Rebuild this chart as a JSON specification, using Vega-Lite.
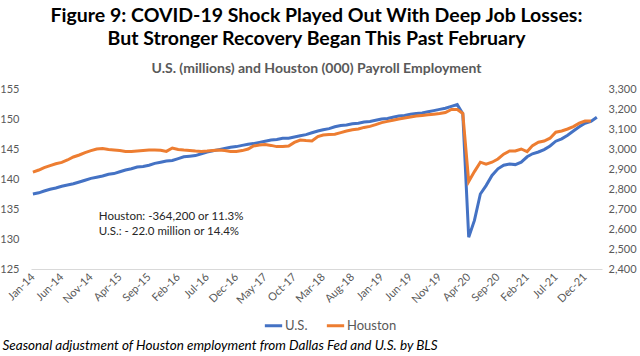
{
  "$schema": "https://vega.github.io/schema/vega-lite/v6.json",
  "width": 571,
  "height": 180,
  "autosize": {"type": "none"},
  "padding": {"left": 31, "top": 89, "right": 38, "bottom": 87},
  "background": "white",
  "config": {"view": {"stroke": null}, "font": "Lato"},
  "title": {
    "text": ["Figure 9: COVID-19 Shock Played Out With Deep Job Losses:", "But Stronger Recovery Began This Past February"],
    "subtitle": "U.S. (millions) and Houston (000) Payroll Employment",
    "anchor": "middle",
    "font": "Lato",
    "fontSize": 19.5,
    "fontWeight": "bold",
    "lineHeight": 23,
    "color": "#000000",
    "subtitleFont": "Lato",
    "subtitleFontSize": 14,
    "subtitleFontWeight": "bold",
    "subtitleColor": "#595959",
    "subtitlePadding": 13,
    "offset": 6
  },
  "datasets": {
    "emp": [
      {"date": "2014-01-01", "US": 137.5, "Houston": 2884},
      {"date": "2014-02-01", "US": 137.7, "Houston": 2895},
      {"date": "2014-03-01", "US": 138.0, "Houston": 2907},
      {"date": "2014-04-01", "US": 138.3, "Houston": 2917},
      {"date": "2014-05-01", "US": 138.5, "Houston": 2926},
      {"date": "2014-06-01", "US": 138.8, "Houston": 2933},
      {"date": "2014-07-01", "US": 139.0, "Houston": 2945},
      {"date": "2014-08-01", "US": 139.2, "Houston": 2960},
      {"date": "2014-09-01", "US": 139.5, "Houston": 2970},
      {"date": "2014-10-01", "US": 139.8, "Houston": 2982},
      {"date": "2014-11-01", "US": 140.1, "Houston": 2992},
      {"date": "2014-12-01", "US": 140.3, "Houston": 3000},
      {"date": "2015-01-01", "US": 140.5, "Houston": 3002},
      {"date": "2015-02-01", "US": 140.8, "Houston": 2998},
      {"date": "2015-03-01", "US": 140.9, "Houston": 2995},
      {"date": "2015-04-01", "US": 141.2, "Houston": 2992},
      {"date": "2015-05-01", "US": 141.5, "Houston": 2988},
      {"date": "2015-06-01", "US": 141.7, "Houston": 2987},
      {"date": "2015-07-01", "US": 142.0, "Houston": 2990},
      {"date": "2015-08-01", "US": 142.1, "Houston": 2993},
      {"date": "2015-09-01", "US": 142.3, "Houston": 2995},
      {"date": "2015-10-01", "US": 142.6, "Houston": 2995},
      {"date": "2015-11-01", "US": 142.8, "Houston": 2994},
      {"date": "2015-12-01", "US": 143.0, "Houston": 2988},
      {"date": "2016-01-01", "US": 143.1, "Houston": 3005},
      {"date": "2016-02-01", "US": 143.4, "Houston": 2998},
      {"date": "2016-03-01", "US": 143.7, "Houston": 2995},
      {"date": "2016-04-01", "US": 143.8, "Houston": 2993},
      {"date": "2016-05-01", "US": 143.9, "Houston": 2990},
      {"date": "2016-06-01", "US": 144.2, "Houston": 2988},
      {"date": "2016-07-01", "US": 144.5, "Houston": 2990},
      {"date": "2016-08-01", "US": 144.7, "Houston": 2993},
      {"date": "2016-09-01", "US": 144.9, "Houston": 2995},
      {"date": "2016-10-01", "US": 145.1, "Houston": 2992},
      {"date": "2016-11-01", "US": 145.3, "Houston": 2988},
      {"date": "2016-12-01", "US": 145.4, "Houston": 2987},
      {"date": "2017-01-01", "US": 145.6, "Houston": 2992},
      {"date": "2017-02-01", "US": 145.8, "Houston": 3000},
      {"date": "2017-03-01", "US": 145.9, "Houston": 3015},
      {"date": "2017-04-01", "US": 146.1, "Houston": 3020},
      {"date": "2017-05-01", "US": 146.3, "Houston": 3023},
      {"date": "2017-06-01", "US": 146.5, "Houston": 3018},
      {"date": "2017-07-01", "US": 146.6, "Houston": 3012},
      {"date": "2017-08-01", "US": 146.8, "Houston": 3012},
      {"date": "2017-09-01", "US": 146.8, "Houston": 3015},
      {"date": "2017-10-01", "US": 147.0, "Houston": 3033},
      {"date": "2017-11-01", "US": 147.2, "Houston": 3045},
      {"date": "2017-12-01", "US": 147.4, "Houston": 3042},
      {"date": "2018-01-01", "US": 147.7, "Houston": 3040},
      {"date": "2018-02-01", "US": 148.0, "Houston": 3062},
      {"date": "2018-03-01", "US": 148.2, "Houston": 3070},
      {"date": "2018-04-01", "US": 148.4, "Houston": 3072},
      {"date": "2018-05-01", "US": 148.7, "Houston": 3074},
      {"date": "2018-06-01", "US": 148.9, "Houston": 3082},
      {"date": "2018-07-01", "US": 149.0, "Houston": 3090},
      {"date": "2018-08-01", "US": 149.2, "Houston": 3096},
      {"date": "2018-09-01", "US": 149.3, "Houston": 3100},
      {"date": "2018-10-01", "US": 149.5, "Houston": 3108},
      {"date": "2018-11-01", "US": 149.6, "Houston": 3113},
      {"date": "2018-12-01", "US": 149.8, "Houston": 3122},
      {"date": "2019-01-01", "US": 150.0, "Houston": 3132},
      {"date": "2019-02-01", "US": 150.1, "Houston": 3138},
      {"date": "2019-03-01", "US": 150.3, "Houston": 3144},
      {"date": "2019-04-01", "US": 150.5, "Houston": 3150},
      {"date": "2019-05-01", "US": 150.6, "Houston": 3155},
      {"date": "2019-06-01", "US": 150.8, "Houston": 3160},
      {"date": "2019-07-01", "US": 150.9, "Houston": 3165},
      {"date": "2019-08-01", "US": 151.0, "Houston": 3168},
      {"date": "2019-09-01", "US": 151.2, "Houston": 3171},
      {"date": "2019-10-01", "US": 151.4, "Houston": 3174},
      {"date": "2019-11-01", "US": 151.6, "Houston": 3177},
      {"date": "2019-12-01", "US": 151.8, "Houston": 3182},
      {"date": "2020-01-01", "US": 152.1, "Houston": 3198},
      {"date": "2020-02-01", "US": 152.4, "Houston": 3197},
      {"date": "2020-03-01", "US": 150.9, "Houston": 3178},
      {"date": "2020-04-01", "US": 130.3, "Houston": 2837},
      {"date": "2020-05-01", "US": 133.1, "Houston": 2887},
      {"date": "2020-06-01", "US": 137.5, "Houston": 2934},
      {"date": "2020-07-01", "US": 138.9, "Houston": 2924},
      {"date": "2020-08-01", "US": 140.6, "Houston": 2934},
      {"date": "2020-09-01", "US": 141.7, "Houston": 2950},
      {"date": "2020-10-01", "US": 142.3, "Houston": 2974},
      {"date": "2020-11-01", "US": 142.5, "Houston": 2990},
      {"date": "2020-12-01", "US": 142.4, "Houston": 2990},
      {"date": "2021-01-01", "US": 142.8, "Houston": 3000},
      {"date": "2021-02-01", "US": 143.7, "Houston": 2987},
      {"date": "2021-03-01", "US": 144.2, "Houston": 3017},
      {"date": "2021-04-01", "US": 144.5, "Houston": 3034},
      {"date": "2021-05-01", "US": 144.9, "Houston": 3040},
      {"date": "2021-06-01", "US": 145.5, "Houston": 3054},
      {"date": "2021-07-01", "US": 146.3, "Houston": 3084},
      {"date": "2021-08-01", "US": 146.7, "Houston": 3090},
      {"date": "2021-09-01", "US": 147.3, "Houston": 3100},
      {"date": "2021-10-01", "US": 148.0, "Houston": 3112},
      {"date": "2021-11-01", "US": 148.7, "Houston": 3129},
      {"date": "2021-12-01", "US": 149.3, "Houston": 3140},
      {"date": "2022-01-01", "US": 149.6, "Houston": 3140},
      {"date": "2022-02-01", "US": 150.3, "Houston": null}
    ],
    "notes": [
      {"date": "2014-12-12", "value": 133.67, "label": "Houston: -364,200 or 11.3%"},
      {"date": "2014-12-12", "value": 131.17, "label": "U.S.: - 22.0 million or 14.4%"}
    ]
  },
  "layer": [
    {
      "layer": [
        {
          "data": {"name": "emp"},
          "mark": {"type": "line", "strokeWidth": 3},
          "encoding": {
            "x": {
              "field": "date",
              "type": "temporal",
              "scale": {
                "type": "utc",
                "domain": [
                  {"year": 2013, "month": 12, "date": 22, "utc": true},
                  {"year": 2022, "month": 2, "date": 28, "utc": true}
                ]
              },
              "axis": {
                "values": [
                  {"year": 2014, "month": 1, "date": 1, "utc": true},
                  {"year": 2014, "month": 6, "date": 1, "utc": true},
                  {"year": 2014, "month": 11, "date": 1, "utc": true},
                  {"year": 2015, "month": 4, "date": 1, "utc": true},
                  {"year": 2015, "month": 9, "date": 1, "utc": true},
                  {"year": 2016, "month": 2, "date": 1, "utc": true},
                  {"year": 2016, "month": 7, "date": 1, "utc": true},
                  {"year": 2016, "month": 12, "date": 1, "utc": true},
                  {"year": 2017, "month": 5, "date": 1, "utc": true},
                  {"year": 2017, "month": 10, "date": 1, "utc": true},
                  {"year": 2018, "month": 3, "date": 1, "utc": true},
                  {"year": 2018, "month": 8, "date": 1, "utc": true},
                  {"year": 2019, "month": 1, "date": 1, "utc": true},
                  {"year": 2019, "month": 6, "date": 1, "utc": true},
                  {"year": 2019, "month": 11, "date": 1, "utc": true},
                  {"year": 2020, "month": 4, "date": 1, "utc": true},
                  {"year": 2020, "month": 9, "date": 1, "utc": true},
                  {"year": 2021, "month": 2, "date": 1, "utc": true},
                  {"year": 2021, "month": 7, "date": 1, "utc": true},
                  {"year": 2021, "month": 12, "date": 1, "utc": true}
                ],
                "tickCount": 100,
                "format": "%b-%y",
                "labelAngle": -45,
                "labelAlign": "right",
                "labelBaseline": "middle",
                "labelPadding": 6,
                "labelFontSize": 11,
                "labelColor": "#595959",
                "labelOverlap": false,
                "labelBound": false,
                "ticks": false,
                "tickSize": 0,
                "grid": false,
                "domainColor": "#D9D9D9",
                "domainWidth": 1,
                "title": "Seasonal adjustment of Houston employment from Dallas Fed and U.S. by BLS",
                "titleAnchor": "start",
                "titleAlign": "left",
                "titleBaseline": "middle",
                "titleX": -29,
                "titleY": 76,
                "titleFontSize": 13.5,
                "titleFontStyle": "italic",
                "titleFontWeight": "normal",
                "titleColor": "#000000"
              }
            },
            "y": {
              "field": "US",
              "type": "quantitative",
              "scale": {"domain": [125, 155], "zero": false, "nice": false},
              "axis": {
                "values": [125, 130, 135, 140, 145, 150, 155],
                "tickCount": 100,
                "format": ".0f",
                "labelOverlap": false,
                "title": null,
                "grid": false,
                "domain": false,
                "ticks": false,
                "tickSize": 0,
                "labelPadding": 12,
                "labelFontSize": 11,
                "labelColor": "#595959"
              }
            },
            "color": {
              "datum": "U.S.",
              "type": "nominal",
              "scale": {"domain": ["U.S.", "Houston"], "range": ["#4472C4", "#ED7D31"]},
              "legend": {
                "orient": "none",
                "legendX": 232,
                "legendY": 226,
                "direction": "horizontal",
                "title": null,
                "symbolType": "stroke",
                "symbolStrokeWidth": 3,
                "symbolSize": 300,
                "labelFont": "Lato",
                "labelFontSize": 13,
                "labelColor": "#595959",
                "labelOffset": 1,
                "columnPadding": 12
              }
            }
          }
        },
        {
          "data": {"name": "notes"},
          "mark": {"type": "text", "align": "left", "baseline": "middle", "fontSize": 11.5, "color": "#262626"},
          "encoding": {
            "x": {"field": "date", "type": "temporal"},
            "y": {"field": "value", "type": "quantitative"},
            "text": {"field": "label", "type": "nominal"}
          }
        }
      ]
    },
    {
      "data": {"name": "emp"},
      "mark": {"type": "line", "strokeWidth": 3},
      "encoding": {
        "x": {"field": "date", "type": "temporal"},
        "y": {
          "field": "Houston",
          "type": "quantitative",
          "scale": {"domain": [2400, 3300], "zero": false, "nice": false},
          "axis": {
            "orient": "right",
            "values": [2400, 2500, 2600, 2700, 2800, 2900, 3000, 3100, 3200, 3300],
            "tickCount": 100,
            "format": ",.0f",
            "labelOverlap": false,
            "title": null,
            "grid": false,
            "domain": false,
            "ticks": false,
            "tickSize": 0,
            "labelPadding": 6,
            "labelFontSize": 11,
            "labelColor": "#595959"
          }
        },
        "color": {"datum": "Houston", "type": "nominal"}
      }
    }
  ],
  "resolve": {"scale": {"y": "independent"}}
}
